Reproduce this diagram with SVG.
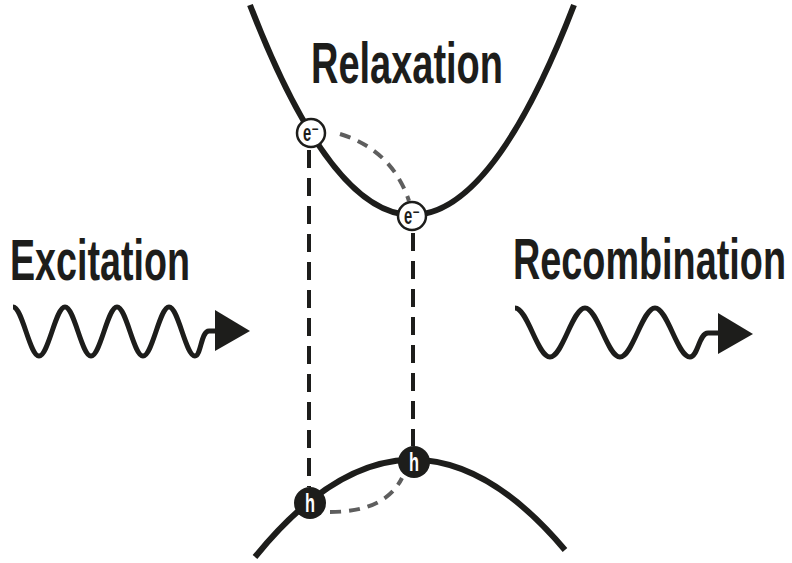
<svg xmlns="http://www.w3.org/2000/svg" width="792" height="563" viewBox="0 0 792 563">
<style>
.lbl{font-family:"Liberation Sans","DejaVu Sans",sans-serif;font-weight:bold;fill:#1d1d1b;font-size:38px}
.band{fill:none;stroke:#1d1d1b;stroke-width:6}
.wave{fill:none;stroke:#1d1d1b;stroke-width:5;stroke-linejoin:round}
.vdash{fill:none;stroke:#1d1d1b;stroke-width:4;stroke-dasharray:18 10}
.gdash{fill:none;stroke:#5e5e5e;stroke-width:4;stroke-dasharray:11 8}
.ecirc{fill:#fff;stroke:#1d1d1b;stroke-width:2.5}
.hcirc{fill:#1d1d1b}
.sym{font-family:"Liberation Sans","DejaVu Sans",sans-serif;font-weight:bold;text-anchor:middle}
</style>
<rect width="792" height="563" fill="#fff"/>
<g id="bands">
<path class="band" d="M250 5 Q412 425 574 5"/>
<path class="band" d="M255 557 Q410 366 565 550"/>
</g>
<g id="connectors">
<path class="vdash" d="M309 150 V487"/>
<path class="vdash" d="M413 233 V446"/>
<path class="gdash" d="M340 134 Q392 150 409 201"/>
<path class="gdash" d="M330 512 Q385 512 402 478"/>
</g>
<g id="excitation">
<text class="lbl" transform="translate(10 280) scale(1 1.5)" textLength="180" lengthAdjust="spacingAndGlyphs">Excitation</text>
<path class="wave" d="M13 307 C22.4 307 29.6 356 39 356 C48.4 356 55.6 307 65 307 C74.4 307 81.6 356 91 356 C100.4 356 107.6 307 117 307 C126.4 307 133.6 356 143 356 C152.4 356 159.6 307 169 307 C178.4 307 185.6 356 195 356 C201 356 201 331 209 331 L218 331"/>
<polygon points="215,310 250,331 215,351" fill="#1d1d1b"/>
</g>
<g id="recombination">
<text class="lbl" transform="translate(513 279) scale(1 1.5)" textLength="273" lengthAdjust="spacingAndGlyphs">Recombination</text>
<path class="wave" d="M515 308 C527.6 308 537.4 357 550 357 C562.6 357 572.4 308 585 308 C597.6 308 607.4 357 620 357 C632.6 357 642.4 308 655 308 C667.6 308 677.4 357 690 357 C698 357 699 333 708 333 L720 333"/>
<polygon points="718,313 753,334 718,354" fill="#1d1d1b"/>
</g>
<g id="relaxation">
<text class="lbl" transform="translate(311 83) scale(1 1.5)" textLength="192" lengthAdjust="spacingAndGlyphs">Relaxation</text>
</g>
<g id="e1">
<circle class="ecirc" cx="311" cy="133" r="14"/>
<text class="sym" x="311" y="141" font-size="24" textLength="16" lengthAdjust="spacingAndGlyphs" fill="#1d1d1b">e⁻</text>
</g>
<g id="e2">
<circle class="ecirc" cx="412" cy="216" r="14"/>
<text class="sym" x="412" y="224" font-size="24" textLength="16" lengthAdjust="spacingAndGlyphs" fill="#1d1d1b">e⁻</text>
</g>
<g id="h1">
<circle class="hcirc" cx="310" cy="503" r="16"/>
<text class="sym" x="310" y="512" font-size="25" textLength="10" lengthAdjust="spacingAndGlyphs" fill="#fff">h</text>
</g>
<g id="h2">
<circle class="hcirc" cx="414" cy="462" r="16"/>
<text class="sym" x="414" y="471" font-size="25" textLength="10" lengthAdjust="spacingAndGlyphs" fill="#fff">h</text>
</g>
</svg>
